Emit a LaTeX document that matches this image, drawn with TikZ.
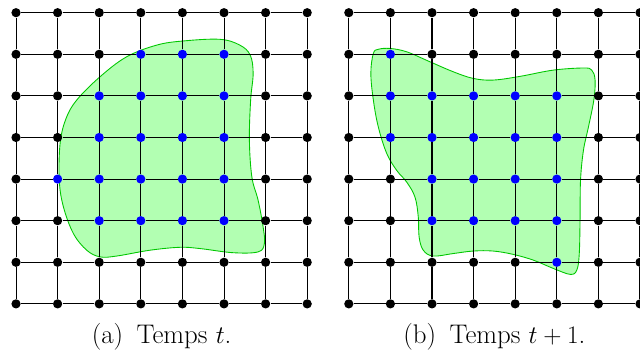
\documentclass[tikz,border=0pt]{standalone}
\begin{document}
\begin{tikzpicture}[x=1cm,y=1cm]
\tikzset{
  dot/.style={circle, fill=black, inner sep=0pt, minimum size=6.3pt},
  bluedot/.style={dot, fill=blue},
  gridline/.style={line width=0.7pt, black},
  blob/.style={draw=green!78!black, fill=green!30, line width=0.6pt},
  captext/.style={font=\fontsize{18.4}{22}\selectfont, anchor=base, inner sep=0pt}
}
\useasboundingbox (-0.385,-1.305) rectangle (15.0,7.305);
% regions
\path[blob] plot[smooth cycle, tension=0.6] coordinates {
 (1.46,4.90) (2.02,5.46) (2.66,5.94) (3.38,6.22) (4.02,6.32) (4.90,6.36) (5.38,6.22)
 (5.63,5.98) (5.70,5.54) (5.64,4.90) (5.61,3.94) (5.67,3.05) (5.82,2.49)
 (5.94,1.85) (5.97,1.45) (5.82,1.25) (5.22,1.23) (4.42,1.33) (3.94,1.36)
 (3.22,1.29) (2.42,1.15) (2.02,1.13) (1.70,1.29) (1.38,1.69) (1.14,2.33)
 (1.04,2.97) (1.06,3.86) (1.20,4.45)};
\path[blob] plot[smooth cycle, tension=0.6] coordinates {
 (8.59,6.02) (8.71,6.12) (8.99,6.14) (9.39,6.06) (9.95,5.82) (10.51,5.58)
 (10.99,5.42) (11.47,5.38) (12.12,5.47) (12.92,5.62) (13.64,5.67) (13.84,5.62)
 (13.92,5.38) (13.89,4.90) (13.76,4.25) (13.64,3.69) (13.57,2.97) (13.56,2.09)
 (13.54,1.21) (13.48,0.81) (13.32,0.71) (12.92,0.85) (12.44,1.05) (11.95,1.19)
 (11.47,1.27) (10.99,1.27) (10.51,1.21) (10.03,1.15) (9.79,1.29) (9.69,1.61)
 (9.67,2.09) (9.59,2.57) (9.39,2.93) (9.15,3.21) (8.91,3.62) (8.71,4.25)
 (8.59,4.90) (8.53,5.54)};
% which points are inside
\foreach \p in {3-6,4-6,5-6,2-5,3-5,4-5,5-5,2-4,3-4,4-4,5-4,1-3,2-3,3-3,4-3,5-3,2-2,3-2,4-2,5-2}
  {\expandafter\gdef\csname isblue-L-\p\endcsname{}}
\foreach \p in {1-6,1-5,2-5,3-5,4-5,5-5,1-4,2-4,3-4,4-4,5-4,2-3,3-3,4-3,5-3,2-2,3-2,4-2,5-2,5-1}
  {\expandafter\gdef\csname isblue-R-\p\endcsname{}}
% grid points
\foreach \i in {0,...,7} {
  \foreach \j in {0,...,7} {
    \ifcsname isblue-L-\i-\j\endcsname\def\st{bluedot}\else\def\st{dot}\fi
    \node[\st] (L-\i-\j) at (\i,\j) {};
    \ifcsname isblue-R-\i-\j\endcsname\def\st{bluedot}\else\def\st{dot}\fi
    \node[\st] (R-\i-\j) at (8+\i,\j) {};
  }
}
% grid lines
\foreach \a in {0,...,7} {
  \foreach \b [evaluate=\b as \c using int(\b+1)] in {0,...,6} {
    \draw[gridline] (L-\a-\b) -- (L-\a-\c);
    \draw[gridline] (L-\b-\a) -- (L-\c-\a);
    \draw[gridline] (R-\a-\b) -- (R-\a-\c);
    \draw[gridline] (R-\b-\a) -- (R-\c-\a);
  }
}
% captions
\node[captext] (capA) at (3.5,-0.955) {(a)\hspace{0.5em}Temps $t$.};
\node[captext] (capB) at (11.5,-0.955) {(b)\hspace{0.5em}Temps $t+1$.};
\end{tikzpicture}
\end{document}
